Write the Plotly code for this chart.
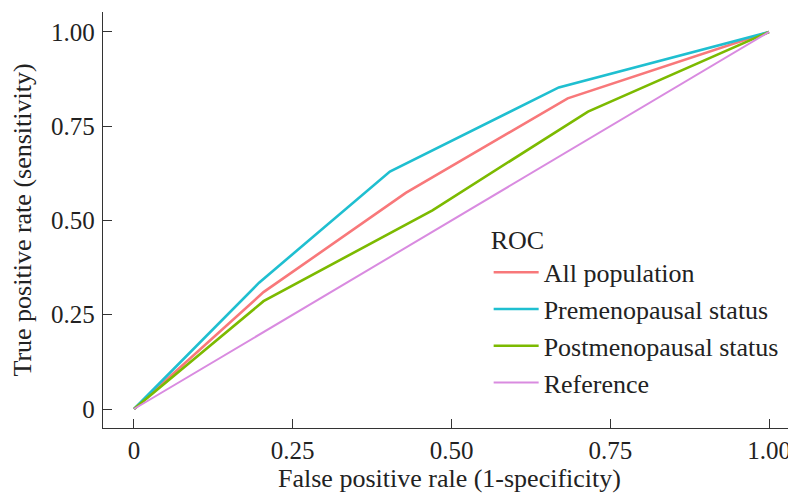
import plotly.graph_objects as go

tick_vals = [0, 0.25, 0.5, 0.75, 1.0]
tick_text = ["0", "0.25", "0.50", "0.75", "1.00"]

all_fpr = [0, 0.204, 0.428, 0.683, 1.0]
all_tpr = [0, 0.310, 0.573, 0.824, 1.0]

pre_fpr = [0, 0.197, 0.403, 0.669, 1.0]
pre_tpr = [0, 0.335, 0.630, 0.853, 1.0]

post_fpr = [0, 0.204, 0.470, 0.715, 1.0]
post_tpr = [0, 0.286, 0.527, 0.789, 1.0]

ref_fpr = [0, 1.0]
ref_tpr = [0, 1.0]

series = [
    ("All population", all_fpr, all_tpr, "#F8787A", 2.6),
    ("Premenopausal status", pre_fpr, pre_tpr, "#1FBFD0", 2.6),
    ("Postmenopausal status", post_fpr, post_tpr, "#7CBA00", 2.6),
    ("Reference", ref_fpr, ref_tpr, "#D98BE0", 2.0),
]

fig = go.Figure()
for name, xs, ys, col, w in series:
    fig.add_trace(go.Scatter(x=xs, y=ys, mode="lines", name=name,
                             line=dict(color=col, width=w)))

font_family = "Liberation Serif"
# page body has an 8px default margin, so the figure is offset by 8px
fig.update_layout(
    width=788, height=485,
    margin=dict(l=95, r=0, t=4, b=65),
    plot_bgcolor="white", paper_bgcolor="white",
    font=dict(family=font_family, size=25, color="#222"),
    showlegend=True,
    legend=dict(
        title=dict(text="ROC", font=dict(size=26)),
        font=dict(size=26),
        x=0.5565, y=0.512, xanchor="left", yanchor="top",
        bgcolor="rgba(0,0,0,0)", itemwidth=45,
        tracegroupgap=0,
    ),
    xaxis=dict(
        range=[-0.0488, 1.0425], tickvals=tick_vals, ticktext=tick_text,
        showgrid=False, zeroline=False, showline=True, linecolor="#333",
        linewidth=1.3, ticks="inside", ticklen=9, tickcolor="#333",
        tickfont=dict(size=25), ticklabelstandoff=0, automargin=False,
        title=dict(text="False positive rale (1-specificity)", font=dict(size=26), standoff=23),
    ),
    yaxis=dict(
        range=[-0.0504, 1.053], tickvals=tick_vals, ticktext=tick_text,
        showgrid=False, zeroline=False, showline=True, linecolor="#333",
        linewidth=1.3, ticks="inside", ticklen=9, tickcolor="#333",
        tickfont=dict(size=25), ticklabelstandoff=2, automargin=False,
        title=dict(text="True positive rate (sensitivity)", font=dict(size=26), standoff=14),
    ),
)

fig.write_html("out.html", config={"displayModeBar": False})
